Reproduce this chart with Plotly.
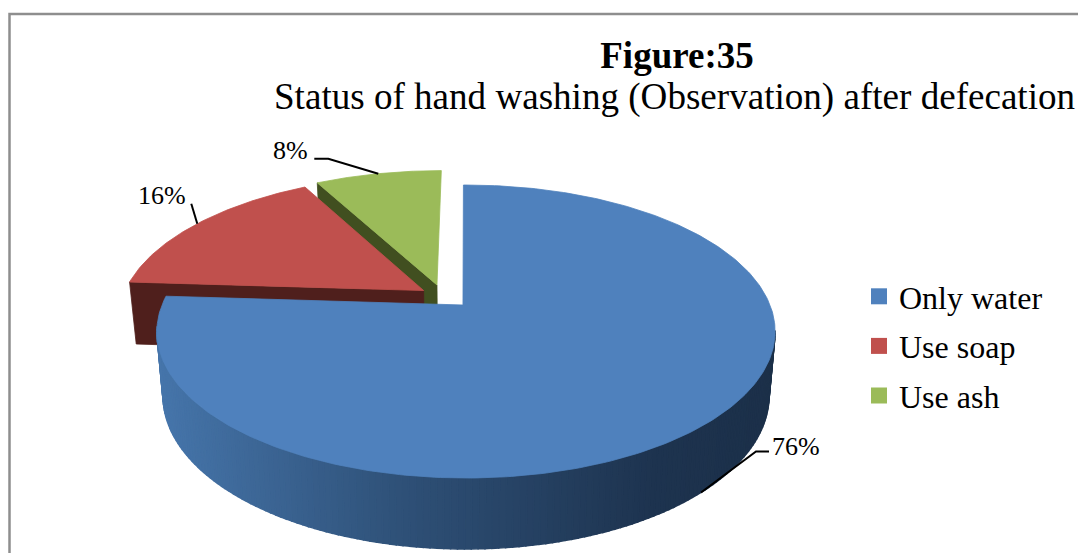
import numpy as np
import plotly.graph_objects as go

CATEGORIES = ["Only water", "Use soap", "Use ash"]
VALUES = [76, 16, 8]
COLORS = ["#4f81bd", "#c0504d", "#9bbb59"]
FACE_COLORS = [None, "#4f1f1c", "#414f20"]
TITLE_MAIN = "Figure:35"
TITLE_SUB = "Status of hand washing (Observation) after defecation"

# view of the tilted 3D pie (canvas pixels)
W, H = 1078, 553
CX, CY, TOP_A, TOP_B = 466.0, 305.0, 141.7, 304.0
BOT_CY, BOT_A, BOT_B = 368.0, 148.2, 298.0
PERSP = 0.181
EXPLODE = [(0.0, 0.0), (-0.142, 0.104), (-0.098, 0.145)]
APEX = [(-0.01, 0.0), (-0.142, 0.104), (-0.098, 0.145)]
WALL_STOPS = [(165, (70, 117, 170)), (400, (47, 81, 120)), (650, (30, 52, 80)), (780, (28, 48, 73))]


def project(u, v, bottom=False):
    w = 1 + PERSP * v
    if bottom:
        return CX + BOT_B * u / w, BOT_CY - BOT_A * v / w
    return CX + TOP_B * u / w, CY - TOP_A * v / w


def disc(angle_deg, off):
    a = np.radians(angle_deg)
    return np.sin(a) + off[0], np.cos(a) + off[1]


def wall_color(x):
    xs = [s[0] for s in WALL_STOPS]
    rgb = [np.interp(x, xs, [s[1][i] for s in WALL_STOPS]) for i in range(3)]
    return "rgb(%d,%d,%d)" % tuple(int(c) for c in rgb)


def poly(fig, xs, ys, color, lw=0.8):
    fig.add_trace(go.Scatter(x=xs, y=ys, mode="lines", fill="toself", fillcolor=color,
                             line=dict(color=color, width=lw), showlegend=False, hoverinfo="skip"))


total = sum(VALUES)
edges = np.concatenate([[0], np.cumsum(VALUES)]) / total * 360

fig = go.Figure()

# green then red, back to front, then blue on top
for i in (2, 1):
    off = EXPLODE[i]
    a0, a1 = edges[i], edges[i + 1]
    au, av = off
    pu, pv = disc(a0, off)
    tx0, ty0 = project(au, av)
    tx1, ty1 = project(pu, pv)
    bx1, by1 = project(pu, pv, True)
    bx0, by0 = project(au, av, True)
    poly(fig, [tx0, tx1, bx1, bx0, tx0], [ty0, ty1, by1, by0, ty0], FACE_COLORS[i])
    th = np.linspace(a0, a1, 60)
    pts = [project(*disc(t, off)) for t in th]
    poly(fig, [tx0] + [p[0] for p in pts] + [tx0], [ty0] + [p[1] for p in pts] + [ty0], COLORS[i])

# blue outer wall as shaded strips
off = EXPLODE[0]
th = np.linspace(100, edges[1] - 12, 150)
for t0, t1 in zip(th[:-1], th[1:]):
    x0, y0 = project(*disc(t0, off))
    x1, y1 = project(*disc(t1, off))
    x2, y2 = project(*disc(t1, off), True)
    x3, y3 = project(*disc(t0, off), True)
    poly(fig, [x0, x1, x2, x3, x0], [y0, y1, y2, y3, y0], wall_color((x0 + x1 + x2 + x3) / 4), lw=1.5)

# blue top
th = np.linspace(edges[0], edges[1], 300)
pts = [project(*disc(t, off)) for t in th]
ax, ay = project(*APEX[0])
ex, ey = project(APEX[0][0], 1.0)
poly(fig, [ax, ex] + [p[0] for p in pts] + [ax], [ay, ey] + [p[1] for p in pts] + [ay], COLORS[0])

# leader lines and value labels
mids = (edges[:-1] + edges[1:]) / 2
anchors = [project(*disc(mids[0], EXPLODE[0]), True),
           project(*disc(mids[1], EXPLODE[1])),
           project(*disc(mids[2], EXPLODE[2]))]
elbows = [[(55, -41), (68, -41)], [(-6, -20), (-6, -20)], [(-50, -15), (-64, -15)]]
lab_pos = [(770, 446, "left"), (188, 195, "right"), (310, 150, "right")]
annotations = []
for i, v in enumerate(VALUES):
    sx, sy = anchors[i]
    xs = [sx] + [sx + e[0] for e in elbows[i]]
    ys = [sy] + [sy + e[1] for e in elbows[i]]
    fig.add_trace(go.Scatter(x=xs, y=ys, mode="lines", line=dict(color="black", width=2),
                             showlegend=False, hoverinfo="skip"))
    lx, ly, anchor = lab_pos[i]
    annotations.append(dict(x=lx, y=ly, xref="x", yref="y", text=f"{v}%", showarrow=False,
                            xanchor=anchor, yanchor="middle",
                            font=dict(family="Liberation Serif", size=26, color="black")))
annotations.append(dict(x=271.5, y=97, xref="x", yref="y", text=TITLE_SUB, showarrow=False,
                        xanchor="left", yanchor="middle",
                        font=dict(family="Liberation Serif", size=37.1, color="black")))

# legend entries
for name, color in zip(CATEGORIES, COLORS):
    fig.add_trace(go.Scatter(x=[None], y=[None], mode="markers", name=name, legendgroup=name,
                             marker=dict(symbol="square", size=16, color=color)))

fig.update_layout(
    width=W, height=H, autosize=False,
    margin=dict(l=0, r=0, t=0, b=0),
    paper_bgcolor="white", plot_bgcolor="white",
    title=dict(text=f"<b>{TITLE_MAIN}</b>", x=677 / W, xanchor="center",
               y=1 - 55 / H, yanchor="middle",
               font=dict(family="Liberation Serif", size=37, color="black")),
    xaxis=dict(range=[0, W], visible=False, fixedrange=True),
    yaxis=dict(range=[H, 0], visible=False, fixedrange=True),
    legend=dict(x=859 / W, y=1 - 269 / H, xanchor="left", yanchor="top", itemwidth=30,
                tracegroupgap=5, bgcolor="rgba(0,0,0,0)", traceorder="grouped",
                font=dict(family="Liberation Serif", size=32, color="black")),
    annotations=annotations,
    shapes=[dict(type="rect", xref="x", yref="y", x0=9.5, y0=14, x1=W + 40, y1=H + 40,
                 line=dict(color="#8e8e8e", width=2.5), layer="below")],
)
fig.write_html("out.html", config={"displayModeBar": False},
               post_script="document.body.style.margin='0';")
